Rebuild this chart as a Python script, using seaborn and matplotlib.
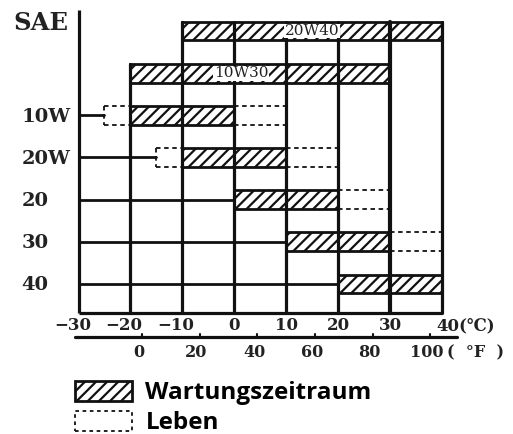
import matplotlib
matplotlib.use("Agg")
import matplotlib.pyplot as plt
from matplotlib.patches import Patch
from matplotlib import font_manager
import numpy as np
import seaborn as sns

# SAE grades (top to bottom) and their temperature ranges in °C
grades = ["20W40", "10W30", "10W", "20W", "20", "30", "40"]
service_low = [-10, -20, -20, -10, 0, 10, 20]
service_high = [40, 30, 0, 10, 20, 30, 40]
life_low = [-10, -20, -25, -15, 0, 10, 20]
life_high = [40, 30, 10, 20, 30, 40, 40]
multigrade = [True, True, False, False, False, False, False]

celsius_ticks = [-30, -20, -10, 0, 10, 20, 30, 40]
fahrenheit_ticks = [0, 20, 40, 60, 80, 100]

sns.set_theme(style="white")
plt.rcParams["hatch.linewidth"] = 1.6
plt.rcParams["hatch.color"] = "black"

fig = plt.figure(figsize=(5.13, 4.34), dpi=100)
ax = fig.add_axes([0, 0, 1, 1])
ax.set_xlim(-45.13, 53.71)
ax.set_ylim(9.557, -0.735)
ax.axis("off")

INK = "#111111"
serif = "DejaVu Serif"
rows = np.arange(len(grades))
bar_h = 0.45
t_min, t_max = celsius_ticks[0], celsius_ticks[-1]
y_bottom = 6.69

# service range bars (hatched)
ax.barh(rows, np.array(service_high) - np.array(service_low), left=service_low,
        height=bar_h, facecolor="white", edgecolor=INK, hatch="///",
        linewidth=2.0, zorder=3)

# extended life range (dashed outline beyond the service range)
dash = dict(color=INK, linewidth=1.3, linestyle=(0, (2.5, 2)), zorder=2)
for r, lo, hi, llo, lhi in zip(rows, service_low, service_high, life_low, life_high):
    top, bot = r - bar_h / 2, r + bar_h / 2
    if llo < lo:
        ax.plot([llo, lo], [top, top], **dash)
        ax.plot([llo, lo], [bot, bot], **dash)
        ax.plot([llo, llo], [top, bot], **dash)
    if lhi > hi:
        ax.plot([hi, lhi], [top, top], **dash)
        ax.plot([hi, lhi], [bot, bot], **dash)

# grid frame: axis lines, verticals and leader lines
solid = dict(color=INK, linewidth=2.3, solid_capstyle="butt", zorder=4)
ax.plot([t_min, t_min], [-0.5, y_bottom], **solid)
ax.plot([t_min, t_max], [y_bottom, y_bottom], **solid)
for t in celsius_ticks[1:]:
    start = -0.225 if t != -20 else 1 - 0.225
    lw = 3.0 if t == 30 else 2.3
    ax.plot([t, t], [start, y_bottom], color=INK, linewidth=lw, zorder=4)
for r, llo, multi in zip(rows, life_low, multigrade):
    if not multi:
        ax.plot([t_min, llo], [r, r], color=INK, linewidth=2.0, zorder=4)

# grade labels
lab = dict(family=serif, fontweight="bold", color="#222222", va="center")
ax.text(-42.6, -0.19, "SAE", fontsize=17.5, ha="left", **lab)
for r, g, multi in zip(rows, grades, multigrade):
    if not multi:
        ax.text(-41.0, r + 0.03, g, fontsize=14, ha="left", **lab)

# multigrade labels inside the bars
for r, g, xc in zip(rows[:2], grades[:2], [15.0, 1.3]):
    ax.text(xc, r, g, fontsize=11, family=serif, ha="center", va="center",
            color="#222222", zorder=5,
            bbox=dict(facecolor="white", edgecolor="none", pad=0.3))

# Celsius scale
tick = dict(family=serif, fontweight="bold", fontsize=12, color="#222222", va="center")
for t in celsius_ticks[:-1]:
    txt = f"\u2212{abs(t)}" if t < 0 else f"{t}"
    ax.text(t - (1.2 if t < 0 else 0), 6.995, txt, ha="center", **tick)
ax.text(39.0, 6.995, f"{celsius_ticks[-1]}(\u2103)", ha="left", **tick)

# Fahrenheit scale
y_f = 7.256
ax.plot([-30.67, 42.9], [y_f, y_f], color=INK, linewidth=2.3, zorder=4)
tick_f = dict(tick, fontsize=11.5)
for f in fahrenheit_ticks:
    c = (f - 32) * 5 / 9
    ax.plot([c, c], [y_f, y_f - 0.07], color=INK, linewidth=1.5)
    ax.text(c - 0.6, 7.636, f"{f}", ha="center", **tick_f)
ax.text(41.0, 7.636, "(  \u00b0F  )", ha="left", **tick_f)

# legend
legend_font = font_manager.FontProperties(family=["Open Sans", "DejaVu Sans"],
                                          weight="bold", size=17.5)
handles = [
    Patch(facecolor="white", edgecolor=INK, hatch="///", linewidth=2.0),
    Patch(facecolor="white", edgecolor=INK, linewidth=1.3, linestyle=(0, (2, 2))),
]
leg = fig.legend(handles, ["Wartungszeitraum", "Leben"], loc="upper left",
                 bbox_to_anchor=(75 / 513, 1 - 381 / 434), frameon=False,
                 prop=legend_font,
                 handlelength=2.35, handleheight=0.9, handletextpad=0.55,
                 labelspacing=0.22, borderpad=0, borderaxespad=0)
for t in leg.get_texts():
    t.set_color("#000000")

fig.savefig("out.png", dpi=100)
